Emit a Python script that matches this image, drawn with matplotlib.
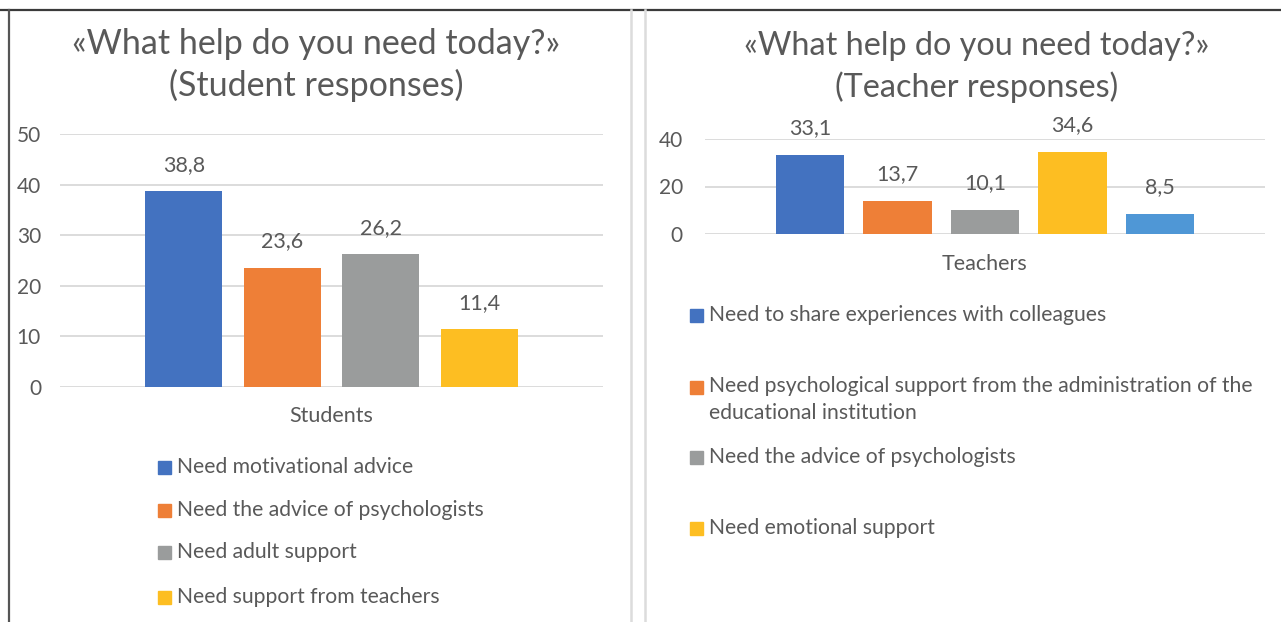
import matplotlib
matplotlib.use("Agg")
import matplotlib.pyplot as plt
from matplotlib.patches import Rectangle
from matplotlib.lines import Line2D

W, H = 1281, 622
plt.rcParams['font.family'] = ['Lato', 'DejaVu Sans']
TXT = '#595959'

# ---------------- data ----------------
titles = ["«What help do you need today?»\n(Student responses)",
          "«What help do you need today?»\n(Teacher responses)"]
student_category = "Students"
student_labels = ["Need motivational advice",
                  "Need the advice of psychologists",
                  "Need adult support",
                  "Need support from teachers"]
student_values = [38.8, 23.6, 26.2, 11.4]
student_colors = ["#4372C0", "#EE7F37", "#9A9C9C", "#FDBE22"]
student_ticks = [0, 10, 20, 30, 40, 50]

teacher_category = "Teachers"
teacher_labels = ["Need to share experiences with colleagues",
                  "Need psychological support from the administration of the\neducational institution",
                  "Need the advice of psychologists",
                  "Need emotional support"]
teacher_values = [33.1, 13.7, 10.1, 34.6, 8.5]
teacher_colors = ["#4372C0", "#EE7F37", "#9A9C9C", "#FDBE22", "#4F97D6"]
teacher_ticks = [0, 20, 40]

fig = plt.figure(figsize=(W / 100, H / 100), dpi=100)


def fx(x):
    return x / W


def fy(y):
    return 1 - y / H


def panel(x0, x1, ytop, ybot, spacing_px, values, colors, ticks, category,
          label_off_px, tick_pad_px, cat_pad_px):
    ax = fig.add_axes([fx(x0), fy(ybot), (x1 - x0) / W, (ybot - ytop) / H])
    n = len(values)
    pos = list(range(n))
    ax.bar(pos, values, width=0.78, color=colors, zorder=3)
    c = (n - 1) / 2
    half = (x1 - x0) / 2 / spacing_px
    ax.set_xlim(c - half, c + half)
    ax.set_ylim(ticks[0], ticks[-1])
    ax.set_yticks(ticks)
    ax.set_yticklabels([str(t) for t in ticks], color=TXT, fontsize=15)
    ax.tick_params(axis='y', length=0, pad=tick_pad_px * 0.72)
    ax.set_xticks([c])
    ax.set_xticklabels([category], color=TXT, fontsize=15.5)
    ax.tick_params(axis='x', length=0, pad=cat_pad_px * 0.72)
    ax.grid(axis='y', color='#d9d9d9', lw=1.3, zorder=0)
    for s in ax.spines.values():
        s.set_visible(False)
    for p, v in zip(pos, values):
        ax.annotate(f"{v:.1f}".replace('.', ','), (p, v),
                    xytext=(0, label_off_px * 0.72), textcoords='offset points',
                    ha='center', va='center', fontsize=15.5, color=TXT,
                    annotation_clip=False)
    return ax


panel(60, 603, 134, 387, 98.5, student_values, student_colors, student_ticks,
      student_category, 26, 19, 19)
panel(705, 1265, 139, 234, 87.5, teacher_values, teacher_colors, teacher_ticks,
      teacher_category, 27, 22, 20)

# titles
fig.text(fx(316), fy(65), titles[0], ha='center', va='center', fontsize=24.5,
         color=TXT, linespacing=1.3)
fig.text(fx(977), fy(67), titles[1], ha='center', va='center', fontsize=23.3,
         color=TXT, linespacing=1.38)


def legend(xsq, xtxt, ys, labels, colors):
    for y, lab, col in zip(ys, labels, colors):
        fig.patches.append(Rectangle((fx(xsq), fy(y + 6.5)), 13 / W, 13 / H,
                                     transform=fig.transFigure, color=col))
        if '\n' in lab:
            fig.text(fx(xtxt), fy(y - 11), lab, ha='left', va='top',
                     fontsize=15.2, color=TXT, linespacing=1.45)
        else:
            fig.text(fx(xtxt), fy(y), lab, ha='left', va='center',
                     fontsize=15.2, color=TXT)


legend(158, 177, [467, 510, 552, 597], student_labels, student_colors)
legend(690, 709, [315, 387, 457, 528], teacher_labels, teacher_colors)

# frame lines
fig.add_artist(Line2D([0, 1], [fy(10), fy(10)], transform=fig.transFigure,
                      color='#3a3a3a', lw=1.6))
fig.add_artist(Line2D([fx(8.5), fx(8.5)], [fy(10), 0], transform=fig.transFigure,
                      color='#555555', lw=1.6))
for xv in (631, 645):
    fig.add_artist(Line2D([fx(xv), fx(xv)], [fy(10), 0], transform=fig.transFigure,
                          color='#dcdcdc', lw=1.8))

fig.savefig("out.png", dpi=100)
